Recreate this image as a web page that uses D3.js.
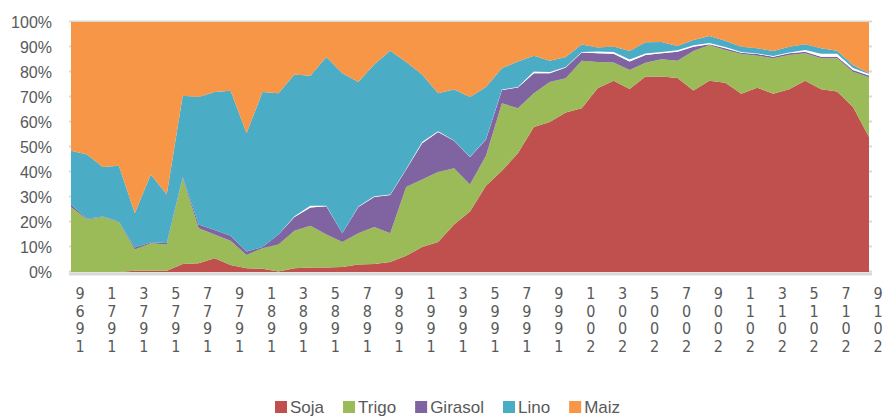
<!DOCTYPE html>
<html>
<head>
<meta charset="utf-8">
<script src="https://cdn.jsdelivr.net/npm/d3@7"></script>
<style>
  body { margin: 0; background: #fff; }
  svg { display: block; }
  .ylab text { font-family: "Liberation Sans", Arial, sans-serif; font-size: 16px; fill: #595959; }
  .xlab { font-family: "Liberation Sans Narrow", "DejaVu Sans Condensed", sans-serif; font-size: 16px; fill: #595959; }
  .legend text { font-family: "Liberation Sans", Arial, sans-serif; font-size: 17px; fill: #595959; }
</style>
</head>
<body>
<div id="chart"></div>
<script>
// years of the series (one point per year)
var years = d3.range(1969, 2020);

// share of each crop, % per year
var soja = [0,0,0,0,0.5,0.5,0.5,3.2,3.5,5.5,2.8,1.5,1.3,0.2,1.5,1.8,1.8,2,3,3.2,4,6.5,10,12,19,24.2,
  34.5,40.5,47.5,58,60,63.8,65.5,73.5,76.5,73.2,78.2,78.2,77.6,72.6,76.5,75.7,71.3,73.7,71.3,73.1,76.5,73.1,72.2,66,54];
var trigo = [26,21,22,20,8.5,11,10.5,34.3,14,9.5,9.7,5.3,8.2,10.8,15,16.7,13.2,10,12.5,14.8,11.5,27.5,27,28,22.5,10.8,
  12,27,18,13.5,16,13.7,19,10.5,7.3,7.6,5.5,6.9,6.9,15.8,14.3,13.1,15.9,12.8,14.2,13.7,11,12.4,13.3,14.1,23.9];
var girasol = [1,0.3,0.2,0.2,0.8,0.4,0.6,0.5,1.5,1.8,2,1.4,0.5,4,5.5,7.3,11.3,3.5,10.5,12,15.3,7,14.5,16,11,11,
  6.5,5.3,8.3,8,3.5,4.3,3.3,3.5,3.5,3.4,3.1,2.4,3.6,1.7,0.3,0.7,0.5,0.7,0.6,0.7,0.6,0.6,0.6,0.7,0.7];
// small unnamed series, no fill in the original (shows as white)
var otros = [0,0,0,0,0,0,0,0,0,0,0,0,0,0,0.3,0.7,0.2,0,0.2,0.3,0.2,0.2,0.5,0.3,0.1,0.1,
  0.1,0.2,0.2,0.7,0.5,0.2,0.2,0.7,0.7,0.8,0.6,0.5,0.6,0.6,0.5,0.5,0.3,0.2,0.3,0.3,0.7,1.2,1.2,0.8,0.6];
var lino = [21.5,25.7,19.8,22.3,13.7,27.1,19.4,32.5,51,55.2,58,47.3,62,56.5,56.7,52,59.5,64,49.8,52.7,57.5,42.8,27,15.2,20.4,23.9,
  20.9,8.5,10.2,6.3,4.5,4,3,1.6,2.2,3.4,4.5,4,1.7,2.1,2.8,2.5,2.1,2.1,2,2.3,2.3,2.2,1.2,1.2,0.3];
var maiz = [51.5,53,58,57.5,76.5,61,69,29.5,30,28,27.5,44.5,28,28.5,21,21.5,14,20.5,24,17,11.5,16,21,28.5,27,30,
  26,18.5,15.8,13.5,15.5,14,9,10.2,9.8,11.6,8.1,8,9.6,7.2,5.6,7.5,9.9,10.5,11.6,9.9,8.9,10.5,11.5,17.2,20.5];

var keys = ["Soja", "Trigo", "Girasol", "Otros", "Lino", "Maiz"];
var legendKeys = ["Soja", "Trigo", "Girasol", "Lino", "Maiz"];
var colors = {Soja: "#c0504d", Trigo: "#9bbb59", Girasol: "#8064a2", Otros: "#ffffff", Lino: "#4bacc6", Maiz: "#f79646"};
var yTicks = d3.range(0, 11).map(function(d) { return d / 10; });
var labelYears = years.filter(function(d) { return d % 2 === 1; });

// table for the stack
var table = years.map(function(yr, i) {
  return {year: yr, Soja: soja[i], Trigo: trigo[i], Girasol: girasol[i], Otros: otros[i], Lino: lino[i], Maiz: maiz[i]};
});

var width = 886, height = 417;
var plot = {left: 71, right: 869, top: 22, bottom: 272};

var svg = d3.select("#chart").append("svg")
  .attr("width", width)
  .attr("height", height);

var x = d3.scaleLinear().domain([1969, 2019]).range([plot.left, plot.right]);
var y = d3.scaleLinear().domain([0, 1]).range([plot.bottom, plot.top]);

// gridlines (mostly hidden behind the areas)
var grid = svg.append("g")
  .attr("transform", "translate(69,-1)")
  .call(d3.axisRight(y).tickValues(yTicks).tickSize(872 - 69).tickFormat(""));
grid.select(".domain").remove();
grid.selectAll("line").attr("stroke", "#d9d9d9").attr("stroke-width", 2);

// bottom axis line
svg.append("line")
  .attr("x1", 69).attr("x2", 872)
  .attr("y1", plot.bottom + 2).attr("y2", plot.bottom + 2)
  .attr("stroke", "#d9d9d9").attr("stroke-width", 3);

var series = d3.stack().keys(keys).offset(d3.stackOffsetExpand)(table);

var area = d3.area()
  .x(function(d) { return x(d.data.year); })
  .y0(function(d) { return y(d[0]); })
  .y1(function(d) { return y(d[1]); });

svg.append("g")
  .selectAll("path")
  .data(series)
  .enter()
  .append("path")
    .attr("d", area)
    .attr("fill", function(d) { return colors[d.key]; });

// y axis labels
var yAxis = svg.append("g")
  .attr("class", "ylab")
  .attr("transform", "translate(" + plot.left + ",0)")
  .call(d3.axisLeft(y).tickValues(yTicks).tickSize(0).tickPadding(19).tickFormat(d3.format(".0%")));
yAxis.select(".domain").remove();
yAxis.attr("font-family", null).attr("font-size", null);

// x labels: stacked characters, read top to bottom
var xl = svg.append("g").selectAll("text")
  .data(labelYears)
  .enter()
  .append("text")
    .attr("class", "xlab")
    .attr("text-anchor", "middle");
xl.each(function(yr) {
  var chars = String(yr).split("").reverse();
  var t = d3.select(this);
  chars.forEach(function(c, i) {
    t.append("tspan")
      .attr("x", x(yr) + 9)
      .attr("y", 299 + i * 17.5)
      .text(c);
  });
});

// legend
var legend = svg.append("g").attr("class", "legend");
var items = legend.selectAll("g")
  .data(legendKeys)
  .enter()
  .append("g");
items.append("rect")
  .attr("width", 12).attr("height", 12)
  .attr("y", 401)
  .attr("fill", function(d) { return colors[d]; });
items.append("text")
  .attr("x", 15)
  .attr("y", 413)
  .text(function(d) { return d; });

var pos = 0;
items.each(function() {
  var g = d3.select(this);
  var w = 15 + g.select("text").node().getComputedTextLength();
  g.attr("transform", "translate(" + pos + ",0)");
  pos += w + 19;
});
var total = pos - 19;
legend.attr("transform", "translate(" + Math.round(447.5 - total / 2) + ",0)");
</script>
</body>
</html>
